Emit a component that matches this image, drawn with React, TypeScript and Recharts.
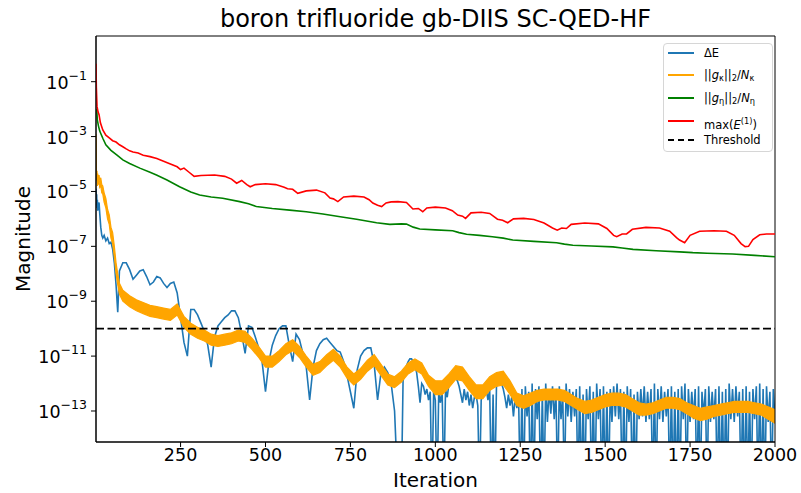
import { Area, ComposedChart, Legend, Line, ReferenceArea, ReferenceLine, XAxis, YAxis } from 'recharts'

const FONT = '"DejaVu Sans", sans-serif'

// log10 of the y-range that the axes show
const Y_MIN = Math.pow(10, -14.13)
const Y_MAX = Math.pow(10, 0.665)

const xTicks = [250, 500, 750, 1000, 1250, 1500, 1750, 2000]
const yTicks = [1e-13, 1e-11, 1e-9, 1e-7, 1e-5, 1e-3, 1e-1]
const threshold = 1e-10

const earlyIters = [1, 2, 3, 4, 5, 6, 8, 10, 12, 15, 18, 21, 25, 30, 35, 40, 45, 50, 55, 60, 65]

// ΔE sampling: every 10 iterations up to 890, every 5 after
const deltaEIters = [
	...earlyIters,
	...Array.from({ length: 83 }, (_, k) => 70 + 10 * k),
	...Array.from({ length: 221 }, (_, k) => 900 + 5 * k),
]

// exponents (log10)
const deltaEExp = [
	-4.9, -5.5, -5.1, -5.6, -5.3, -5.7, -5.5, -5.4, -5.8, -6.3, -6.6, -6.7, -6.6, -6.8, -6.7, -6.9, -6.85, -7.1, -7.6, -8.4, -9.4,
	// 70 .. 890
	-7.9, -7.6, -7.6, -7.85, -8.2, -8.05, -7.9, -7.85, -8.1, -8.4,
	-8.3, -8.1, -8.15, -8.35, -8.5, -8.35, -8.3, -8.7, -9.6, -10.5,
	-11.0, -9.3, -9.3, -9.5, -9.8, -10.1, -10.6, -11.4, -10.3, -9.9,
	-9.75, -9.6, -9.5, -9.35, -9.35, -9.6, -10.2, -10.9, -9.9, -9.95,
	-10.3, -10.7, -11.2, -12.3, -11.2, -10.6, -10.25, -10.0, -9.9, -9.9,
	-10.6, -11.2, -10.2, -10.4, -10.9, -11.4, -12.6, -11.4, -10.8, -10.55,
	-10.4, -10.35, -10.5, -10.65, -10.8, -10.85, -11.2, -11.7, -12.3, -12.9,
	-11.5, -11.0, -10.8, -10.7, -10.7, -11.3, -12.6, -11.6, -11.4, -11.6,
	-12.0, -13.0, -16,
	// 900 .. 1250
	-16, -11.9, -11.6, -11.35, -11.2, -11.1, -11.1, -11.2, -11.35, -11.6,
	-12.1, -12.7, -12.0, -12.1, -12.4, -12.2, -12.6, -12.3, -16, -12.3,
	-12.6, -16, -12.3, -12.7, -12.2, -16, -12.2, -12.5, -12.0, -11.9,
	-11.8, -11.75, -11.8, -11.9, -12.1, -12.4, -12.7, -12.2, -12.6, -12.3,
	-12.8, -12.4, -12.9, -12.5, -12.4, -12.8, -16, -12.6, -12.3, -12.1,
	-12.2, -12.6, -12.2, -16, -12.4, -16, -12.1, -12.0, -11.95, -12.0,
	-12.2, -12.5, -12.9, -12.4, -12.8, -12.5, -13.2, -12.5, -12.9, -12.4,
	-16,
	// 1255 .. 2000
	-12.2, -16, -12.1, -13.2, -12.3, -16, -12.0, -16, -12.2, -13.3,
	-12.1, -16, -12.3, -16, -12.0, -13.4, -12.2, -13.1, -12.1, -13.3,
	-12.2, -16, -12.1, -13.3, -12.3, -16, -12.0, -13.2, -12.2, -13.4,
	-12.3, -13.2, -12.2, -16, -12.1, -16, -12.4, -16, -12.2, -13.3,
	-12.1, -16, -12.3, -16, -12.0, -13.3, -12.2, -16, -12.1, -16,
	-12.3, -16, -12.2, -13.4, -12.1, -13.2, -12.0, -13.3, -12.2, -16,
	-12.3, -16, -12.1, -13.4, -12.2, -16, -12.4, -16, -12.3, -13.3,
	-12.2, -13.2, -12.1, -13.4, -12.3, -13.3, -12.2, -16, -12.0, -16,
	-12.2, -13.3, -12.1, -13.4, -12.3, -13.2, -12.2, -16, -12.1, -16,
	-12.3, -16, -12.2, -16, -12.1, -13.3, -12.0, -16, -12.2, -13.4,
	-12.3, -13.3, -12.2, -16, -12.1, -16, -12.3, -13.2, -12.2, -16,
	-12.1, -13.4, -12.3, -13.3, -12.2, -16, -12.1, -16, -12.3, -16,
	-12.2, -16, -12.0, -13.3, -12.2, -13.4, -12.1, -13.2, -12.3, -16,
	-12.2, -16, -12.1, -16, -12.3, -16, -12.2, -13.3, -12.1, -16,
	-12.0, -16, -12.2, -16, -12.1, -13.4, -12.3, -16, -12.2, -13.3,
]

// gradient kappa oscillates fast: kept as its upper and lower envelope
const gKappaIters = [...earlyIters, 70, ...Array.from({ length: 97 }, (_, k) => 80 + 20 * k)]
const gKappaUpperExp = [
	-2.9, -4.2, -4.4, -4.25, -4.6, -4.35, -4.5, -4.4, -4.6, -4.5, -4.75, -4.8, -5.05, -5.25, -5.65, -5.85, -6.3, -6.5, -7.0, -7.6, -8.0, -8.35,
	// 80 .. 280
	-8.6, -8.8, -8.95, -9.05, -9.15, -9.2, -9.25, -9.3, -9.1, -9.55, -9.8,
	// 300 .. 980
	-9.95, -10.05, -10.2, -10.25, -10.2, -10.15, -10.05, -10.1, -10.35, -10.65,
	-11.0, -11.0, -10.8, -10.55, -10.4, -10.65, -11.0, -11.3, -11.2, -10.95,
	-10.75, -11.0, -11.4, -11.65, -11.45, -11.15, -10.95, -11.3, -11.65, -11.75,
	-11.55, -11.25, -11.1, -11.25, -11.7,
	// 1000 .. 2000
	-11.9, -11.9, -11.65, -11.35, -11.4, -11.75, -12.05, -12.05, -11.75, -11.6,
	-11.55, -11.9, -12.35, -12.45, -12.35, -12.25, -12.2, -12.2, -12.2, -12.25,
	-12.4, -12.55, -12.65, -12.6, -12.5, -12.4, -12.35, -12.35, -12.4, -12.55,
	-12.7, -12.75, -12.7, -12.6, -12.5, -12.5, -12.55, -12.7, -12.8, -12.9,
	-12.85, -12.8, -12.75, -12.7, -12.65, -12.65, -12.65, -12.7, -12.75, -12.85,
	-12.95,
]
const gKappaLowerExp = [
	-3.1, -4.4, -4.6, -4.45, -4.8, -4.55, -4.75, -4.65, -4.85, -4.8, -5.05, -5.1, -5.4, -5.6, -6.0, -6.2, -6.7, -6.9, -7.4, -8.0, -8.4, -8.75,
	// 80 .. 280
	-9.0, -9.2, -9.35, -9.45, -9.55, -9.6, -9.65, -9.7, -9.5, -9.95, -10.2,
	// 300 .. 980
	-10.35, -10.45, -10.6, -10.65, -10.6, -10.55, -10.45, -10.5, -10.75, -11.05,
	-11.4, -11.4, -11.2, -10.95, -10.8, -11.05, -11.4, -11.7, -11.6, -11.35,
	-11.15, -11.4, -11.8, -12.05, -11.85, -11.55, -11.35, -11.7, -12.05, -12.15,
	-11.95, -11.65, -11.5, -11.65, -12.1,
	// 1000 .. 2000
	-12.4, -12.4, -12.15, -11.85, -11.9, -12.25, -12.55, -12.55, -12.25, -12.1,
	-12.05, -12.4, -12.8, -12.9, -12.8, -12.65, -12.6, -12.6, -12.6, -12.65,
	-12.8, -12.95, -13.1, -13.05, -12.95, -12.85, -12.8, -12.8, -12.85, -13.0,
	-13.15, -13.15, -13.1, -13.0, -12.9, -12.9, -12.95, -13.1, -13.25, -13.35,
	-13.3, -13.2, -13.15, -13.1, -13.05, -13.05, -13.05, -13.1, -13.15, -13.3,
	-13.45,
]

const gEtaIters = [
	1, 3, 5, 8, 12, 21, 30, 45, 62, 80, 100, 130, 160, 179, 210, 247, 280, 306, 340, 374,
	424, 450, 473, 520, 571, 620, 669, 720, 768, 827, 866, 900, 915, 935, 954, 1000, 1051, 1070, 1092, 1130,
	1168, 1200, 1228, 1290, 1357, 1380, 1405, 1460, 1523, 1550, 1582, 1650, 1719, 1758, 1800, 1875, 1940, 2000,
]
const gEtaExp = [
	-2.2, -2.0, -2.4, -2.6, -2.8, -3.06, -3.3, -3.5, -3.67, -3.85, -3.98, -4.15, -4.3, -4.4, -4.58, -4.83, -5.02, -5.13, -5.2, -5.25,
	-5.37, -5.45, -5.55, -5.62, -5.68, -5.74, -5.82, -5.92, -6.01, -6.14, -6.2, -6.18, -6.19, -6.3, -6.37, -6.4, -6.43, -6.5, -6.56, -6.6,
	-6.65, -6.7, -6.77, -6.82, -6.87, -6.92, -6.96, -6.99, -7.02, -7.06, -7.11, -7.16, -7.2, -7.23, -7.25, -7.28, -7.33, -7.38,
]

const maxE1Iters = [
	1, 2, 4, 7, 10, 14, 21, 30, 40, 50, 60, 70, 80, 90, 100, 110, 125, 140, 160, 180,
	200, 220, 240, 250, 260, 275, 290, 310, 350, 380, 400, 415, 430, 445, 455, 470, 500, 530, 555, 565,
	580, 595, 620, 650, 675, 690, 700, 713, 730, 760, 790, 805, 816, 830, 842, 855, 870, 890, 915, 934,
	950, 963, 975, 1000, 1030, 1050, 1066, 1080, 1089, 1105, 1135, 1160, 1183, 1198, 1213, 1230, 1260, 1290, 1320, 1345,
	1359, 1372, 1386, 1400, 1440, 1480, 1505, 1525, 1534, 1550, 1563, 1580, 1620, 1660, 1690, 1710, 1719, 1734, 1750, 1778,
	1820, 1857, 1880, 1900, 1912, 1922, 1935, 1955, 1975, 2000,
]
const maxE1Exp = [
	-0.35, -1.2, -1.9, -2.1, -2.2, -2.5, -2.76, -2.95, -3.05, -3.15, -3.2, -3.3, -3.37, -3.45, -3.52, -3.56, -3.6, -3.68, -3.73, -3.8,
	-3.9, -4.0, -4.1, -4.2, -4.15, -4.3, -4.45, -4.42, -4.4, -4.45, -4.55, -4.7, -4.6, -4.75, -4.83, -4.75, -4.72, -4.75, -4.85, -4.9,
	-4.92, -5.07, -4.98, -4.95, -5.05, -5.24, -5.27, -5.37, -5.2, -5.17, -5.2, -5.3, -5.42, -5.5, -5.55, -5.42, -5.38, -5.37, -5.4, -5.64,
	-5.62, -5.74, -5.6, -5.57, -5.6, -5.7, -5.86, -5.9, -5.98, -5.78, -5.76, -5.8, -6.01, -6.05, -6.14, -6.0, -5.98, -6.02, -6.15, -6.33,
	-6.41, -6.33, -6.35, -6.2, -6.15, -6.18, -6.35, -6.6, -6.65, -6.55, -6.55, -6.38, -6.31, -6.33, -6.45, -6.68, -6.77, -6.87, -6.6, -6.45,
	-6.43, -6.45, -6.6, -6.9, -7.01, -7.0, -6.75, -6.58, -6.55, -6.55,
]

const toRows = (iters: number[], exps: number[]) => iters.map((i, k) => ({ i, v: Math.pow(10, exps[k]) }))

const deltaERows = toRows(deltaEIters, deltaEExp)
const gKappaRows = gKappaIters.map((i, k) => ({
	i,
	band: [Math.pow(10, gKappaLowerExp[k]), Math.pow(10, gKappaUpperExp[k])],
}))
const gEtaRows = toRows(gEtaIters, gEtaExp)
const maxE1Rows = toRows(maxE1Iters, maxE1Exp)

const COLORS = {
	deltaE: '#1f77b4',
	gKappa: '#ffa500',
	gEta: '#008000',
	maxE1: '#ff0000',
	threshold: '#000000',
}

const LogTick = (props: any) => {
	const { x, y, payload } = props
	const exp = Math.round(Math.log10(payload.value))
	return (
		<text x={x} y={y} textAnchor="end" fill="#000" fontSize={17.5} fontFamily={FONT}>
			<tspan dy={7}>10</tspan>
			<tspan dy={-9} fontSize={12.5}>
				{'\u2212' + Math.abs(exp)}
			</tspan>
		</text>
	)
}

const sub = { fontSize: '0.72em', verticalAlign: '-0.25em' }

const legendItems = [
	{ key: 'de', color: COLORS.deltaE, dashed: false, top: 9, label: <>ΔE</> },
	{
		key: 'gk',
		color: COLORS.gKappa,
		dashed: false,
		top: 31,
		label: (
			<>
				||<i>g</i>
				<span style={sub}>κ</span>||<span style={sub}>2</span>/<i>N</i>
				<span style={sub}>κ</span>
			</>
		),
	},
	{
		key: 'ge',
		color: COLORS.gEta,
		dashed: false,
		top: 54,
		label: (
			<>
				||<i>g</i>
				<span style={sub}>η</span>||<span style={sub}>2</span>/<i>N</i>
				<span style={sub}>η</span>
			</>
		),
	},
	{
		key: 'me',
		color: COLORS.maxE1,
		dashed: false,
		top: 77,
		label: (
			<>
				max(<i>E</i>
				<span style={{ fontSize: '0.72em', verticalAlign: '0.55em' }}>(1)</span>)
			</>
		),
	},
	{ key: 'th', color: COLORS.threshold, dashed: true, top: 96, label: <>Threshold</> },
]

const renderLegend = () => (
	<div
		style={{
			position: 'relative',
			width: 110,
			height: 109,
			boxSizing: 'border-box',
			border: '1px solid #d6d6d6',
			borderRadius: 4,
			background: 'rgba(255,255,255,0.8)',
			fontFamily: FONT,
			fontSize: 11.5,
			color: '#000',
		}}
	>
		{legendItems.map((item) => (
			<div key={item.key} style={{ position: 'absolute', left: 0, top: item.top - 8, height: 16, width: '100%' }}>
				<span
					style={{
						position: 'absolute',
						left: 4,
						top: 7,
						width: 26,
						height: 0,
						borderTop: `2px ${item.dashed ? 'dashed' : 'solid'} ${item.color}`,
					}}
				/>
				<span style={{ position: 'absolute', left: 40, top: 0, lineHeight: '16px', whiteSpace: 'nowrap' }}>
					{item.label}
				</span>
			</div>
		))}
	</div>
)

const App = () => {
	return (
		<div style={{ position: 'absolute', left: 0, top: 0, width: 801, height: 493, background: '#fff' }}>
			<div
				style={{
					position: 'absolute',
					left: 96,
					width: 679,
					top: 7,
					textAlign: 'center',
					fontFamily: FONT,
					fontSize: 24,
					lineHeight: '24px',
					color: '#000',
					whiteSpace: 'nowrap',
				}}
			>
				boron trifluoride gb-DIIS SC-QED-HF
			</div>
			<ComposedChart width={801} height={493} margin={{ top: 36, right: 26, bottom: 0, left: 0 }} style={{ fontFamily: FONT }}>
				<XAxis
					type="number"
					dataKey="i"
					domain={[1, 2000]}
					allowDataOverflow
					ticks={xTicks}
					height={51}
					tickSize={5}
					tickMargin={2}
					tick={{ fill: '#000', fontSize: 17.5 }}
					stroke="#000"
					label={{ value: 'Iteration', position: 'insideBottom', offset: 6, fill: '#000', fontSize: 20 }}
				/>
				<YAxis
					type="number"
					scale="log"
					domain={[Y_MIN, Y_MAX]}
					allowDataOverflow
					ticks={yTicks}
					width={96}
					tickSize={5}
					tickMargin={4}
					tick={LogTick}
					stroke="#000"
					label={{
						value: 'Magnitude',
						angle: -90,
						position: 'insideLeft',
						offset: 23,
						fill: '#000',
						fontSize: 20,
						style: { textAnchor: 'middle' },
					}}
				/>
				{/* ΔE drawn as an unfilled area so that it sits in the same layer as, and under, the gradient band */}
				<Area
					data={deltaERows}
					dataKey="v"
					name="ΔE"
					type="linear"
					stroke={COLORS.deltaE}
					strokeWidth={1.6}
					fill="none"
					dot={false}
					activeDot={false}
					isAnimationActive={false}
				/>
				<Area
					data={gKappaRows}
					dataKey="band"
					name="gKappa"
					type="linear"
					stroke={COLORS.gKappa}
					strokeWidth={1.2}
					fill={COLORS.gKappa}
					fillOpacity={1}
					dot={false}
					activeDot={false}
					isAnimationActive={false}
				/>
				<Line data={gEtaRows} dataKey="v" name="gEta" stroke={COLORS.gEta} strokeWidth={1.6} dot={false} isAnimationActive={false} />
				<Line data={maxE1Rows} dataKey="v" name="maxE1" stroke={COLORS.maxE1} strokeWidth={1.6} dot={false} isAnimationActive={false} />
				<ReferenceLine y={threshold} stroke={COLORS.threshold} strokeWidth={1.6} strokeDasharray="8 3.5" />
				<ReferenceArea x1={1} x2={2000} y1={Y_MIN} y2={Y_MAX} fill="none" stroke="#000" strokeWidth={1} ifOverflow="visible" />
				<Legend
					layout="horizontal"
					align="center"
					verticalAlign="middle"
					content={renderLegend}
					wrapperStyle={{ left: 663, top: 43, width: 110, height: 109 }}
				/>
			</ComposedChart>
		</div>
	)
}

export default App
